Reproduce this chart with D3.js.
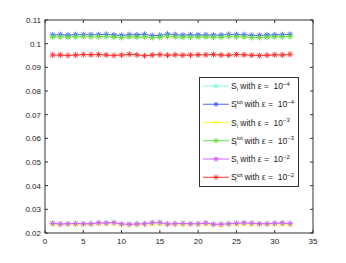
<!DOCTYPE html>
<html><head><meta charset="utf-8">
<script src="https://cdn.jsdelivr.net/npm/d3@7"></script>
<style>body{margin:0;background:#fff}svg{display:block}text{font-family:"Liberation Sans",Arial,sans-serif}</style>
</head><body><svg id="c" width="346" height="263"></svg>
<script>
const xs = d3.range(1, 33);
const xTicks = [0,5,10,15,20,25,30,35];
const yTicks = [0.02,0.03,0.04,0.05,0.06,0.07,0.08,0.09,0.1,0.11];
const yTickLabels = ["0.02","0.03","0.04","0.05","0.06","0.07","0.08","0.09","0.1","0.11"];
const seriesNames = ["S_i|10^-4","S_tot|10^-4","S_i|10^-3","S_tot|10^-3","S_i|10^-2","S_tot|10^-2"];
const seriesColors = ["#80ffe0","#4a66ff","#ffff40","#66e040","#d060ff","#ff3333"];
const siEps4   = [0.0240,0.0237,0.0238,0.0239,0.0238,0.0238,0.0242,0.0241,0.0243,0.0237,0.0236,0.0237,0.0238,0.0241,0.0242,0.0237,0.0238,0.0239,0.0238,0.0238,0.0241,0.0236,0.0236,0.0238,0.0239,0.0241,0.0239,0.0238,0.0238,0.0240,0.0240,0.0238];
const stotEps4 = [0.1037,0.1038,0.1036,0.1038,0.1038,0.1038,0.1038,0.1039,0.1037,0.1035,0.1038,0.1037,0.1039,0.1034,0.1035,0.1040,0.1038,0.1036,0.1037,0.1037,0.1037,0.1036,0.1036,0.1039,0.1038,0.1038,0.1035,0.1035,0.1037,0.1037,0.1038,0.1039];
const siEps3   = [0.0237,0.0235,0.0236,0.0237,0.0236,0.0236,0.0239,0.0238,0.0240,0.0235,0.0234,0.0235,0.0236,0.0238,0.0239,0.0235,0.0236,0.0237,0.0236,0.0236,0.0238,0.0234,0.0234,0.0236,0.0237,0.0238,0.0237,0.0236,0.0236,0.0237,0.0237,0.0236];
const stotEps3 = [0.1029,0.1029,0.1028,0.1029,0.1030,0.1029,0.1029,0.1030,0.1028,0.1026,0.1029,0.1028,0.1029,0.1025,0.1027,0.1031,0.1029,0.1027,0.1028,0.1028,0.1029,0.1027,0.1027,0.1030,0.1029,0.1029,0.1026,0.1026,0.1028,0.1029,0.1029,0.1030];
const siEps2   = [0.0241,0.0238,0.0239,0.0240,0.0239,0.0239,0.0243,0.0242,0.0244,0.0238,0.0237,0.0238,0.0239,0.0243,0.0244,0.0238,0.0239,0.0240,0.0239,0.0239,0.0242,0.0237,0.0237,0.0239,0.0241,0.0243,0.0241,0.0239,0.0239,0.0241,0.0242,0.0240];
const stotEps2 = [0.0952,0.0952,0.0950,0.0952,0.0954,0.0953,0.0954,0.0952,0.0950,0.0952,0.0955,0.0953,0.0949,0.0952,0.0954,0.0951,0.0953,0.0951,0.0952,0.0953,0.0953,0.0954,0.0952,0.0951,0.0954,0.0953,0.0951,0.0950,0.0951,0.0953,0.0952,0.0955];
const seriesValues = [siEps4, stotEps4, siEps3, stotEps3, siEps2, stotEps2];

const svg = d3.select("#c");
const L=45, R=313, T=20, B=233;
const x = d3.scaleLinear().domain([0,35]).range([L,R]);
const y = d3.scaleLinear().domain([0.02,0.11]).range([B,T]);

svg.append("rect").attr("x",L).attr("y",T).attr("width",R-L).attr("height",B-T).attr("fill","#fff");

function star(g, cx, cy, col, s){
  const p = d3.path();
  p.moveTo(cx-s,cy); p.lineTo(cx+s,cy);
  p.moveTo(cx,cy-s); p.lineTo(cx,cy+s);
  const d=s*0.72;
  p.moveTo(cx-d,cy-d); p.lineTo(cx+d,cy+d);
  p.moveTo(cx-d,cy+d); p.lineTo(cx+d,cy-d);
  g.append("path").attr("d",p.toString()).attr("stroke",col).attr("stroke-width",1).attr("fill","none");
}

const line = d3.line().x((d,i)=>x(xs[i])).y(d=>y(d));
seriesValues.forEach((vals,k)=>{
  const g = svg.append("g");
  g.append("path").attr("d",line(vals)).attr("fill","none").attr("stroke",seriesColors[k]).attr("stroke-width",1);
  vals.forEach((v,i)=>star(g, x(xs[i]), y(v), seriesColors[k], 3));
});

const ax = svg.append("g").attr("font-size",8).attr("fill","#222");
ax.append("rect").attr("x",L).attr("y",T).attr("width",R-L).attr("height",B-T).attr("fill","none").attr("stroke","#333").attr("stroke-width",1);
xTicks.forEach(t=>{
  ax.append("line").attr("x1",x(t)).attr("x2",x(t)).attr("y1",B).attr("y2",B-3).attr("stroke","#333");
  ax.append("line").attr("x1",x(t)).attr("x2",x(t)).attr("y1",T).attr("y2",T+3).attr("stroke","#333");
  ax.append("text").attr("x",x(t)).attr("y",B+11).attr("text-anchor","middle").text(t);
});
yTicks.forEach((t,i)=>{
  ax.append("line").attr("x1",L).attr("x2",L+3).attr("y1",y(t)).attr("y2",y(t)).attr("stroke","#333");
  ax.append("line").attr("x1",R).attr("x2",R-3).attr("y1",y(t)).attr("y2",y(t)).attr("stroke","#333");
  ax.append("text").attr("x",L-4).attr("y",y(t)+3).attr("text-anchor","end").text(yTickLabels[i]);
});

const lg = svg.append("g");
lg.append("rect").attr("x",199.5).attr("y",77.5).attr("width",99).attr("height",109).attr("fill","#fff").attr("stroke","#333").attr("stroke-width",1);
seriesNames.forEach((nm,k)=>{
  const cy = 86 + k*18.25;
  const [lab, ex] = nm.split("|");
  lg.append("line").attr("x1",203).attr("x2",229).attr("y1",cy).attr("y2",cy).attr("stroke",seriesColors[k]).attr("stroke-width",1);
  star(lg, 216, cy, seriesColors[k], 2.5);
  const t = lg.append("text").attr("x",231).attr("y",cy+3).attr("font-size",8.5).attr("fill","#222");
  t.append("tspan").text("S");
  if (lab==="S_i") {
    t.append("tspan").attr("font-size",5.5).attr("dy",2).text("i");
    t.append("tspan").attr("dy",-2).text(" with ε =\u00a0\u00a010");
  } else {
    t.append("tspan").attr("font-size",5.5).attr("dy",-3.5).text("tot");
    t.append("tspan").attr("font-size",5.5).attr("dx",-7.5).attr("dy",5.5).text("i");
    t.append("tspan").attr("dx",5.5).attr("dy",-2).text(" with ε =\u00a0\u00a010");
  }
  t.append("tspan").attr("font-size",6).attr("dy",-3.5).text(ex.replace("10^","").replace("-","−"));
});
</script></body></html>
